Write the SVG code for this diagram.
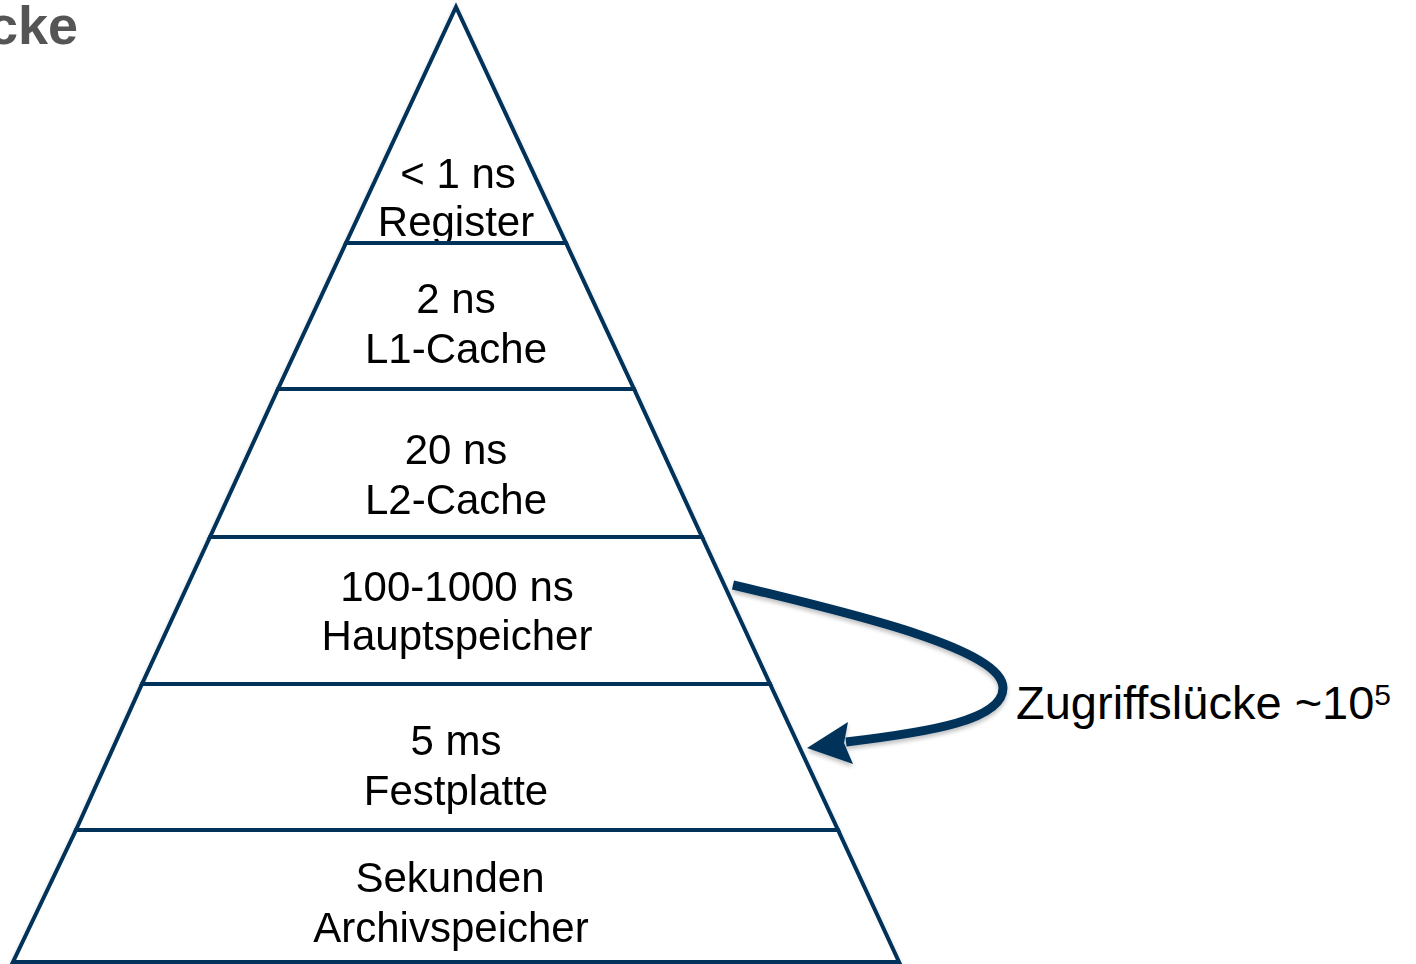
<svg xmlns="http://www.w3.org/2000/svg" width="1416" height="964" viewBox="0 0 1416 964">
<defs>
<filter id="sh" x="-10%" y="-10%" width="120%" height="130%">
<feGaussianBlur in="SourceAlpha" stdDeviation="2"/>
<feOffset dx="0" dy="3" result="b"/>
<feComponentTransfer><feFuncA type="linear" slope="0.25"/></feComponentTransfer>
<feMerge><feMergeNode/><feMergeNode in="SourceGraphic"/></feMerge>
</filter>
<style>
.lvl{fill:#ffffff;stroke:#00335a;stroke-width:4;stroke-linejoin:miter}
.t{font-family:"Liberation Sans",Arial,Helvetica,sans-serif;font-size:42px;fill:#000;text-anchor:middle}
.lab{font-family:"Liberation Sans",Arial,Helvetica,sans-serif;font-size:47px;fill:#000}
.title{font-family:"Liberation Sans",Arial,Helvetica,sans-serif;font-size:54px;font-weight:bold;fill:#555555;text-anchor:end}
.arr{fill:none;stroke:#00335a;stroke-width:9;stroke-linecap:butt}
</style>
</defs>
<rect width="1416" height="964" fill="#ffffff"/>
<text class="title" x="78" y="44">cke</text>
<g id="pyramid" filter="url(#sh)">
<g id="register">
<polygon class="lvl" points="456,7 566,243 346,243"/>
<text class="t" x="458" y="188">&lt; 1 ns</text>
<text class="t" x="456" y="236">Register</text>
</g>
<g id="l1">
<polygon class="lvl" points="346,243 566,243 634,389 278,389"/>
<text class="t" x="456" y="313">2 ns</text>
<text class="t" x="456" y="363">L1-Cache</text>
</g>
<g id="l2">
<polygon class="lvl" points="278,389 634,389 702,537 210,537"/>
<text class="t" x="456" y="464">20 ns</text>
<text class="t" x="456" y="514">L2-Cache</text>
</g>
<g id="ram">
<polygon class="lvl" points="210,537 702,537 770,684 142,684"/>
<text class="t" x="457" y="601">100-1000 ns</text>
<text class="t" x="457" y="650">Hauptspeicher</text>
</g>
<g id="hdd">
<polygon class="lvl" points="142,684 770,684 838,830 76,830"/>
<text class="t" x="456" y="755">5 ms</text>
<text class="t" x="456" y="805">Festplatte</text>
</g>
<g id="archive">
<polygon class="lvl" points="76,830 838,830 899,962 13,962"/>
<text class="t" x="450" y="892">Sekunden</text>
<text class="t" x="451" y="942">Archivspeicher</text>
</g>
</g>
<g id="connectors" filter="url(#sh)">
<path class="arr" d="M733,585 C860,615 1003,650 1003,688 C1003,720 930,732 846,742"/>
<polygon points="807,748 848,722 844,743 853,764" fill="#00335a"/>
</g>
<g id="gap-label">
<text class="lab" x="1016" y="719">Zugriffslücke ~10<tspan font-size="30" dy="-14">5</tspan></text>
</g>
</svg>
